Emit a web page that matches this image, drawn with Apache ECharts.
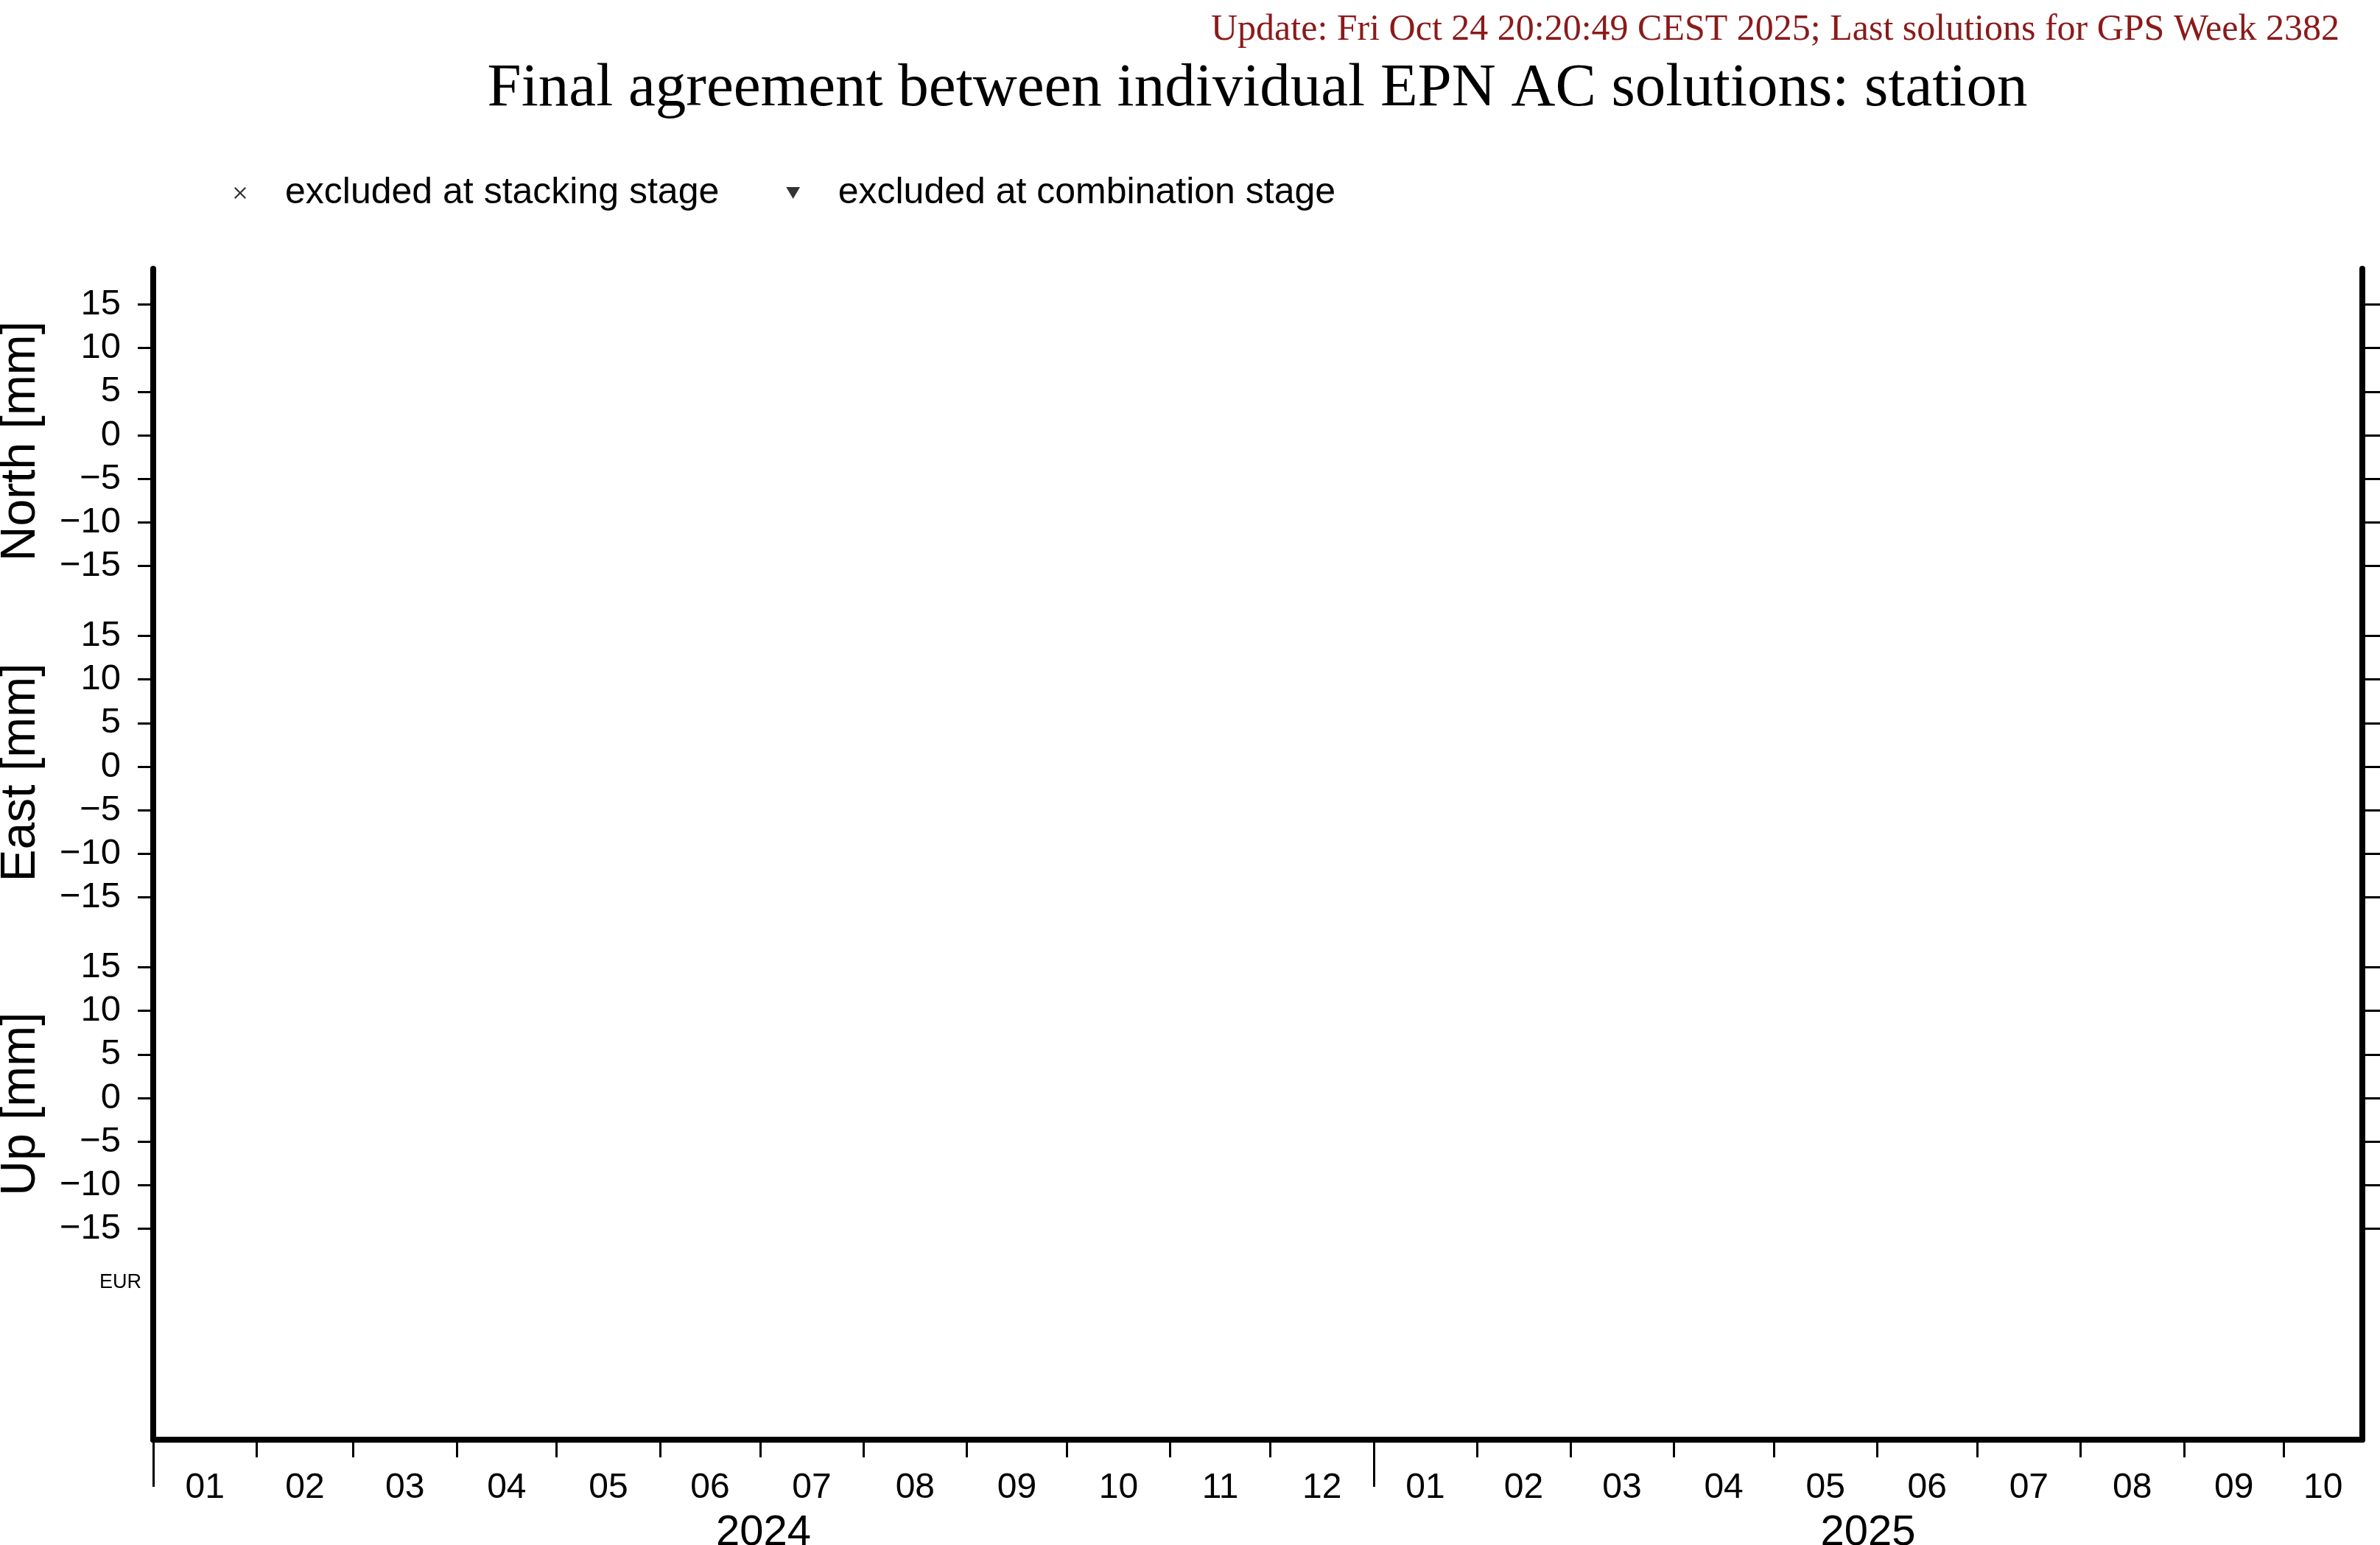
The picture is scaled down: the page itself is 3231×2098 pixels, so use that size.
<!DOCTYPE html>
<html>
<head>
<meta charset="utf-8">
<script src="https://cdn.jsdelivr.net/npm/echarts@6/dist/echarts.min.js"></script>
<style>
html,body{margin:0;padding:0;background:#fff;}
#c{width:3231px;height:2098px;}
</style>
</head>
<body>
<div id="c"></div>
<script>
// ---- data ----
const panelNames = ['North [mm]', 'East [mm]', 'Up [mm]'];
const yTicks = [-15, -10, -5, 0, 5, 10, 15];
const yRange = [-19, 19];
const xStart = '2024-01-01T00:00:00';
const xEnd = '2025-10-24T12:00:00';
const monthLabels = ['01','02','03','04','05','06','07','08','09','10','11','12'];
const years = [2024, 2025];
const legendNames = ['excluded at stacking stage', 'excluded at combination stage'];
// no solutions available for this station: empty series
const northStacking = [], northCombination = [];
const eastStacking = [], eastCombination = [];
const upStacking = [], upCombination = [];
const titleText = 'Final agreement between individual EPN AC solutions: station';
const updateText = 'Update: Fri Oct 24 20:20:49 CEST 2025; Last solutions for GPS Week 2382';
const networkLabel = 'EUR';

// ---- layout ----
const L = 208, R = 3231 - 3207, frameTop = 365, frameBottom = 1955;
const panelTop = 366, panelH = 450;
const SANS = 'Liberation Sans, Arial, Helvetica, sans-serif';
const SERIF = 'Liberation Serif, Times New Roman, serif';

const tMin = new Date(xStart).getTime();
const tMax = new Date(xEnd).getTime();

const monthStarts = [], monthMids = [];
for (let y = 2024; y <= 2025; y++) {
  for (let m = 0; m < 12; m++) {
    const s = new Date(y, m, 1).getTime();
    const e = new Date(y, m + 1, 1).getTime();
    if (s > tMax) continue;
    if (s >= tMin) monthStarts.push(s);
    const a = Math.max(s, tMin), b = Math.min(e, tMax);
    if (b > a) monthMids.push(a + (b - a) / 2);
  }
}
const yearStarts = [], yearMids = [];
years.forEach(y => {
  const s = new Date(y, 0, 1).getTime(), e = new Date(y + 1, 0, 1).getTime();
  if (s >= tMin && s <= tMax) yearStarts.push(s);
  const a = Math.max(s, tMin), b = Math.min(e, tMax);
  yearMids.push(a + (b - a) / 2);
});

const grids = [], xAxes = [], yAxes = [], series = [];
grids.push({left: L, right: R, top: frameTop, height: frameBottom - frameTop, outerBoundsMode: 'none', containLabel: false});
xAxes.push({
  type: 'value', gridIndex: 0, min: tMin, max: tMax, position: 'bottom',
  splitLine: {show: false},
  axisLine: {show: true, lineStyle: {color: '#000', width: 8}},
  axisTick: {show: true, customValues: monthStarts, length: 24, lineStyle: {color: '#000', width: 3}},
  axisLabel: {show: true, customValues: monthMids, margin: 42, fontSize: 48, color: '#000', fontFamily: SANS,
    formatter: v => monthLabels[new Date(v).getMonth()]}
});
xAxes.push({
  type: 'value', gridIndex: 0, min: tMin, max: tMax, position: 'bottom',
  splitLine: {show: false},
  axisLine: {show: false},
  axisTick: {show: true, customValues: yearStarts, length: 64, lineStyle: {color: '#000', width: 3}},
  axisLabel: {show: true, customValues: yearMids, margin: 98, fontSize: 58, color: '#000', fontFamily: SANS,
    formatter: v => String(new Date(v).getFullYear())}
});
yAxes.push({type: 'value', gridIndex: 0, min: 0, max: 1, position: 'left',
  axisLine: {show: true, lineStyle: {color: '#000', width: 8}}, axisTick: {show: false}, axisLabel: {show: false}, splitLine: {show: false}});
yAxes.push({type: 'value', gridIndex: 0, min: 0, max: 1, position: 'right',
  axisLine: {show: true, lineStyle: {color: '#000', width: 8}}, axisTick: {show: false}, axisLabel: {show: false}, splitLine: {show: false}});

const panelData = [[northStacking, northCombination], [eastStacking, eastCombination], [upStacking, upCombination]];
const symX = 'path://M2,0L10,8L18,0L20,2L12,10L20,18L18,20L10,12L2,20L0,18L8,10L0,2Z';
const symTri = 'path://M0,0L20,0L10,17Z';

panelNames.forEach((name, i) => {
  const g = i + 1;
  grids.push({left: L, right: R, top: panelTop + i * panelH, height: panelH, outerBoundsMode: 'none', containLabel: false});
  xAxes.push({type: 'value', gridIndex: g, min: tMin, max: tMax, show: false, splitLine: {show: false}});
  yAxes.push({
    type: 'value', gridIndex: g, min: yRange[0], max: yRange[1], position: 'left',
    name: name, nameLocation: 'middle', nameGap: 146, nameRotate: 90,
    nameTextStyle: {fontSize: 66, color: '#000', fontFamily: SANS, padding: [0, 16, 0, 0]},
    axisLine: {show: false}, splitLine: {show: false},
    axisTick: {show: true, customValues: yTicks, length: 21, lineStyle: {color: '#000', width: 3}},
    axisLabel: {show: true, customValues: yTicks, margin: 44, fontSize: 49, color: '#000', fontFamily: SANS,
      formatter: v => (v < 0 ? '\u2212' + Math.abs(v) : String(v))}
  });
  yAxes.push({
    type: 'value', gridIndex: g, min: yRange[0], max: yRange[1], position: 'right',
    axisLine: {show: false}, splitLine: {show: false},
    axisTick: {show: true, customValues: yTicks, length: 24, lineStyle: {color: '#000', width: 3}},
    axisLabel: {show: false}
  });
  const yIdx = yAxes.length - 2;
  series.push({name: legendNames[0], type: 'scatter', xAxisIndex: i + 2, yAxisIndex: yIdx,
    symbol: symX, symbolSize: 16, itemStyle: {color: '#000'}, data: panelData[i][0]});
  series.push({name: legendNames[1], type: 'scatter', xAxisIndex: i + 2, yAxisIndex: yIdx,
    symbol: symTri, symbolSize: [15, 13], itemStyle: {color: '#000'}, data: panelData[i][1]});
});

const chart = echarts.init(document.getElementById('c'), null, {renderer: 'canvas'});
chart.setOption({
  backgroundColor: '#fff',
  animation: false,
  title: [
    {text: titleText, left: 1707, top: 80, textAlign: 'center', padding: 0,
      textStyle: {fontSize: 83, fontWeight: 'normal', color: '#000', fontFamily: SERIF}},
    {text: updateText, right: 55, top: 16, padding: 0,
      textStyle: {fontSize: 50, fontWeight: 'normal', color: '#8B1A1A', fontFamily: SERIF}},
    {text: networkLabel, right: 3231 - 192, top: 1728, padding: 0,
      textStyle: {fontSize: 27, fontWeight: 'normal', color: '#000', fontFamily: SANS}}
  ],
  legend: {
    left: 313, top: 232, itemGap: 91, itemWidth: 112, itemHeight: 16,
    selectedMode: false,
    data: [
      {name: legendNames[0], icon: symX, itemStyle: {color: '#000'}},
      {name: legendNames[1], icon: symTri, itemStyle: {color: '#000'}}
    ],
    textStyle: {fontSize: 50, color: '#000', fontFamily: SANS}
  },
  grid: grids,
  xAxis: xAxes,
  yAxis: yAxes,
  series: series
});
</script>
</body>
</html>
